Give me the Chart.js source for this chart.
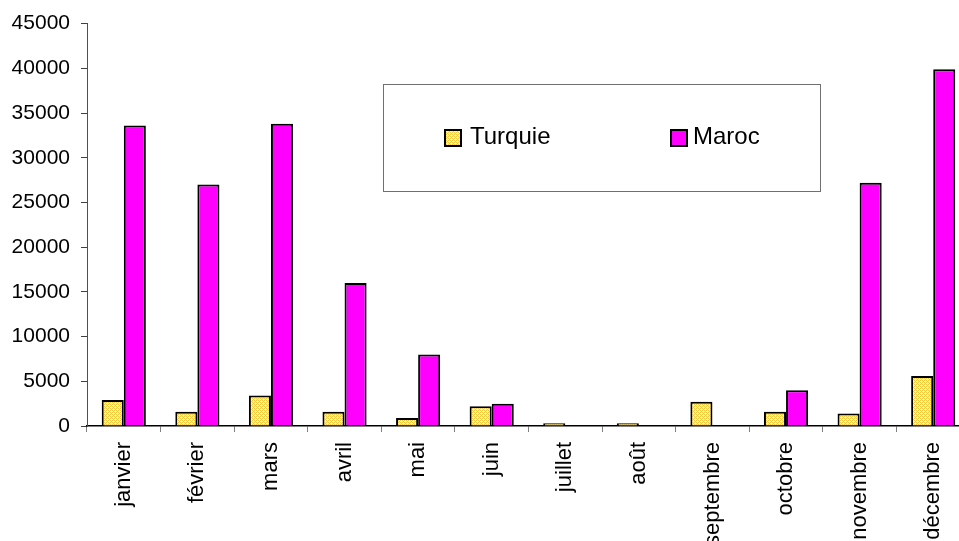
<!DOCTYPE html>
<html>
<head>
<meta charset="utf-8">
<script src="https://cdn.jsdelivr.net/npm/chart.js@4.4.1/dist/chart.umd.min.js"></script>
<style>
  html, body { margin: 0; padding: 0; background: #ffffff; overflow: hidden; }
  #wrap { width: 976px; height: 541px; }
</style>
</head>
<body>
<div id="wrap"><canvas id="c" width="976" height="541"></canvas></div>
<script>
const categories = ['janvier', 'février', 'mars', 'avril', 'mai', 'juin', 'juillet', 'août', 'septembre', 'octobre', 'novembre', 'décembre'];
const seriesNames = ['Turquie', 'Maroc'];
const turquieValues = [2900, 1600, 3400, 1600, 900, 2200, 300, 300, 2700, 1600, 1400, 5600];
const marocValues = [33600, 27000, 33800, 16000, 8000, 2500, 0, 0, 0, 4000, 27200, 39900];
const yTickValues = [0, 5000, 10000, 15000, 20000, 25000, 30000, 35000, 40000, 45000];

function makeHatch() {
  const c = document.createElement('canvas');
  c.width = 4; c.height = 4;
  const g = c.getContext('2d');
  g.fillStyle = '#FFF3B0';
  g.fillRect(0, 0, 4, 4);
  g.fillStyle = '#F5C93E';
  for (let x = 0; x < 4; x++) {
    for (let y = 0; y < 4; y++) {
      if ((x + y) % 4 === 0) g.fillRect(x, y, 1, 1);
      if ((x + y) % 4 === 2 && x % 2 === 0) g.fillRect(x, y, 1, 1);
    }
  }
  return document.getElementById('c').getContext('2d').createPattern(c, 'repeat');
}
const hatch = makeHatch();
const FONT = "'Liberation Sans', Arial, sans-serif";

const legendBox = {
  id: 'legendBox',
  afterDraw(chart) {
    const ctx = chart.ctx;
    ctx.save();
    ctx.strokeStyle = '#707070';
    ctx.lineWidth = 1;
    ctx.fillStyle = '#ffffff';
    ctx.fillRect(383.5, 84.5, 437, 107);
    ctx.strokeRect(383.5, 84.5, 437, 107);
    const items = [
      { x: 445, tx: 470 },
      { x: 671, tx: 693 }
    ];
    chart.data.datasets.forEach((ds, i) => {
      const it = items[i];
      ctx.fillStyle = ds.backgroundColor;
      ctx.fillRect(it.x, 130, 16, 16);
      ctx.strokeStyle = '#000000';
      ctx.lineWidth = 2;
      ctx.strokeRect(it.x, 130, 16, 16);
      ctx.fillStyle = '#000000';
      ctx.font = '24px ' + FONT;
      ctx.textBaseline = 'middle';
      ctx.textAlign = 'left';
      ctx.fillText(ds.label, it.tx, 137);
    });
    ctx.restore();
  }
};

new Chart(document.getElementById('c'), {
  type: 'bar',
  data: {
    labels: categories,
    datasets: [
      { label: seriesNames[0], data: turquieValues, backgroundColor: hatch, borderColor: '#000000', borderWidth: 2, borderSkipped: 'bottom' },
      { label: seriesNames[1], data: marocValues, backgroundColor: '#FF00FF', borderColor: '#000000', borderWidth: 2, borderSkipped: 'bottom' }
    ]
  },
  options: {
    responsive: false,
    animation: false,
    devicePixelRatio: 1,
    layout: { padding: { top: 23, right: 6, left: 0, bottom: 0 } },
    plugins: { legend: { display: false }, tooltip: { enabled: false } },
    datasets: { bar: { categoryPercentage: 0.6, barPercentage: 1.0 } },
    scales: {
      x: {
        grid: { display: true, drawOnChartArea: false, drawTicks: true, tickLength: 6, tickColor: '#808080', offset: true },
        border: { display: true, color: '#000000', width: 1.5 },
        ticks: { color: '#000000', font: { family: FONT, size: 22 }, minRotation: 90, maxRotation: 90, padding: 10, autoSkip: false },
        afterFit(scale) { scale.height = 115; }
      },
      y: {
        min: 0, max: 45000,
        afterBuildTicks(scale) { scale.ticks = yTickValues.map(v => ({ value: v })); },
        grid: { display: true, drawOnChartArea: false, drawTicks: true, tickLength: 6, tickColor: '#404040' },
        border: { display: true, color: '#505050', width: 1 },
        ticks: { color: '#000000', font: { family: FONT, size: 21 }, padding: 11, callback: v => String(v) },
        afterFit(scale) { scale.width = 87; }
      }
    }
  },
  plugins: [legendBox]
});
</script>
</body>
</html>
